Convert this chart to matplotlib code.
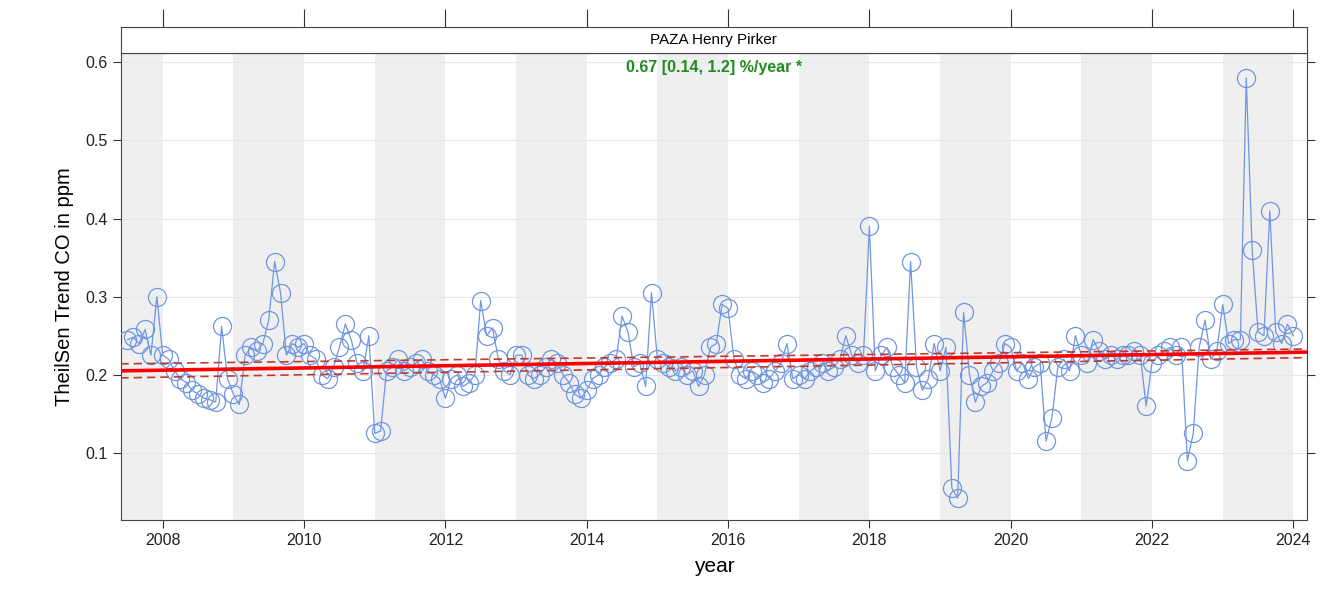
import numpy as np
import matplotlib.pyplot as plt

plt.rcParams['font.family'] = ['Liberation Sans', 'DejaVu Sans']

# monthly means, Jul 2007 .. Jan 2024
start_year, start_month = 2007, 7
co = [
    0.245, 0.248, 0.240, 0.258, 0.225, 0.300,                                        # 2007
    0.225, 0.220, 0.205, 0.195, 0.190, 0.180, 0.175, 0.170, 0.168, 0.165, 0.262, 0.195,  # 2008
    0.175, 0.162, 0.225, 0.235, 0.230, 0.240, 0.270, 0.345, 0.305, 0.225, 0.240, 0.235,  # 2009
    0.240, 0.225, 0.220, 0.200, 0.195, 0.210, 0.235, 0.265, 0.245, 0.215, 0.205, 0.250,  # 2010
    0.125, 0.128, 0.205, 0.210, 0.220, 0.205, 0.210, 0.215, 0.220, 0.205, 0.200, 0.195,  # 2011
    0.170, 0.195, 0.200, 0.185, 0.190, 0.200, 0.295, 0.250, 0.260, 0.220, 0.205, 0.200,  # 2012
    0.225, 0.225, 0.200, 0.195, 0.200, 0.210, 0.220, 0.215, 0.200, 0.190, 0.175, 0.170,  # 2013
    0.180, 0.195, 0.200, 0.210, 0.215, 0.220, 0.275, 0.255, 0.210, 0.215, 0.185, 0.305,  # 2014
    0.220, 0.215, 0.210, 0.205, 0.210, 0.200, 0.205, 0.185, 0.200, 0.235, 0.240, 0.290,  # 2015
    0.285, 0.220, 0.200, 0.195, 0.205, 0.200, 0.190, 0.195, 0.205, 0.215, 0.240, 0.195,  # 2016
    0.200, 0.195, 0.205, 0.210, 0.215, 0.205, 0.210, 0.220, 0.250, 0.225, 0.215, 0.225,  # 2017
    0.390, 0.205, 0.225, 0.235, 0.210, 0.200, 0.190, 0.345, 0.210, 0.180, 0.195, 0.240,  # 2018
    0.205, 0.235, 0.055, 0.042, 0.280, 0.200, 0.165, 0.185, 0.190, 0.205, 0.215, 0.240,  # 2019
    0.235, 0.205, 0.215, 0.195, 0.210, 0.215, 0.115, 0.145, 0.210, 0.220, 0.205, 0.250,  # 2020
    0.225, 0.215, 0.245, 0.230, 0.220, 0.225, 0.220, 0.225, 0.225, 0.230, 0.225, 0.160,  # 2021
    0.215, 0.225, 0.230, 0.235, 0.225, 0.235, 0.090, 0.125, 0.235, 0.270, 0.220, 0.230,  # 2022
    0.290, 0.240, 0.245, 0.245, 0.580, 0.360, 0.255, 0.250, 0.410, 0.255, 0.240, 0.265,  # 2023
    0.250,                                                                            # 2024
]

# Theil-Sen trend and 95% interval, ends of the panel
trend_x = [2007.4, 2024.2]
trend_mid = [0.205, 0.229]
trend_lo = [0.196, 0.222]
trend_hi = [0.214, 0.233]
label = "0.67 [0.14, 1.2] %/year *"
site = "PAZA Henry Pirker"

months = np.arange(len(co)) + (start_month - 1)
t = start_year + months / 12.0

fig = plt.figure(figsize=(13.2, 6.13), dpi=100)
ax = fig.add_axes([0.0917, 0.1517, 0.8983, 0.7618])
strip = fig.add_axes([0.0917, 0.9135, 0.8983, 0.0424])

xlim = (2007.41, 2024.19)
ylim = (0.014, 0.612)

# alternate year shading
for yr in range(2007, 2025, 2):
    ax.axvspan(yr, yr + 1, color='#efefef', lw=0, zorder=0)

for yv in np.arange(0.1, 0.61, 0.1):
    ax.axhline(yv, color='#e6e6e6', lw=0.8, zorder=0.5)

ax.plot(t, co, '-', color='#6f96e0', lw=0.9, zorder=2)
ax.plot(t, co, 'o', ms=13, mfc='none', mec='#6f96e0', mew=0.9, zorder=3)

ax.plot(trend_x, trend_mid, color='#ff0000', lw=2.6, zorder=4)
ax.plot(trend_x, trend_lo, color='#c0392b', lw=1.2, ls=(0, (5, 3)), zorder=4)
ax.plot(trend_x, trend_hi, color='#c0392b', lw=1.2, ls=(0, (5, 3)), zorder=4)

ax.text(0.5, 0.985, label, transform=ax.transAxes, ha='center', va='top',
        color='#228b22', fontsize=11.5, fontweight='bold')

ax.set_xlim(xlim)
ax.set_ylim(ylim)
ax.set_xticks(range(2008, 2025, 2))
ax.set_yticks(np.round(np.arange(0.1, 0.61, 0.1), 1))
ax.tick_params(direction='out', length=6, labelsize=11.5, top=False, right=True,
               colors='#333333', labelcolor='#222222')
ax.set_xlabel('year', fontsize=15, labelpad=6)
ax.set_ylabel('TheilSen Trend CO in ppm', fontsize=14.5, labelpad=8)
for s in ax.spines.values():
    s.set_color('#444444')

strip.set_xlim(xlim)
strip.set_ylim(0, 1)
strip.set_facecolor('white')
strip.set_xticks(range(2008, 2025, 2))
strip.set_yticks([])
strip.tick_params(axis='x', direction='out', length=13, top=True, bottom=False,
                  labeltop=False, labelbottom=False, colors='#333333')
strip.text(0.5, 0.5, site, transform=strip.transAxes, ha='center', va='center',
           fontsize=11)
for s in strip.spines.values():
    s.set_color('#444444')

fig.savefig('out.png', dpi=100)
